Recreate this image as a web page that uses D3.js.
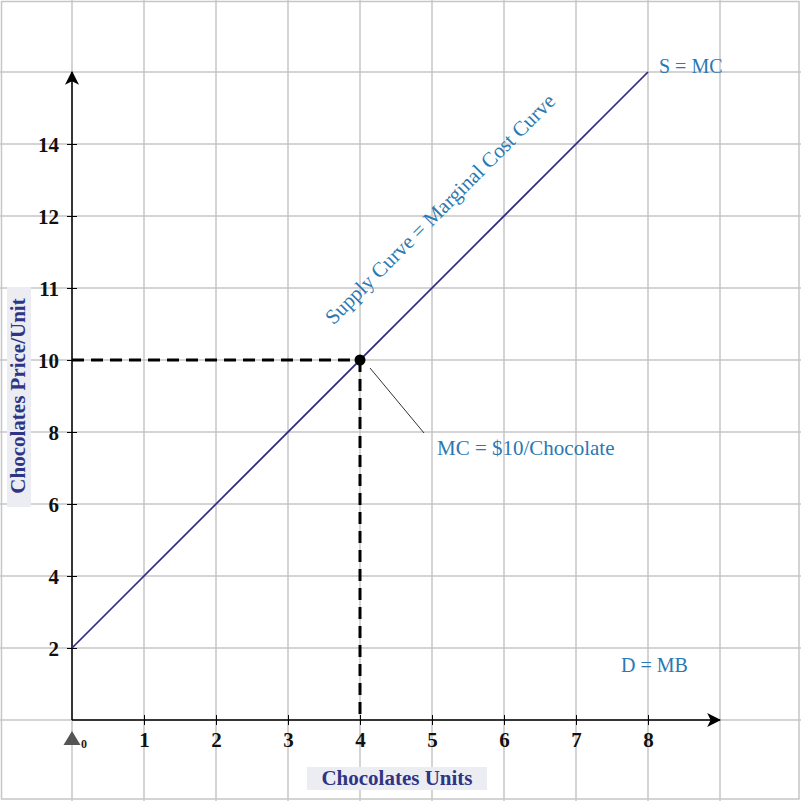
<!DOCTYPE html>
<html><head><meta charset="utf-8">
<script src="https://cdn.jsdelivr.net/npm/d3@7/dist/d3.min.js"></script>
<style>html,body{margin:0;padding:0;background:#fff}svg{display:block}</style>
</head><body>
<script>
// ---- data ----
const xTickValues = [1,2,3,4,5,6,7,8];
const xTickLabels = ["1","2","3","4","5","6","7","8"];
const yTickRows = [1,2,3,4,5,6,7,8];
const yTickLabels = ["2","4","6","8","10","11","12","14"];
const supplyQ = [0, 8];
const supplyRow = [1, 9];
const eqQ = 4, eqRow = 5;
const gridCols = [0,1,2,3,4,5,6,7,8,9];
const gridRows = [0,1,2,3,4,5,6,7,8,9];

const W = 801, H = 801;
const svg = d3.select("body").append("svg").attr("width", W).attr("height", H);
const x = d3.scaleLinear().domain([-1, 10]).range([0, 792]);
const y = d3.scaleLinear().domain([0, 10]).range([720, 0]);
const serif = "'Liberation Serif', 'DejaVu Serif', serif";
const blue = "#2b78b2";
const navy = "#2f3585";

// grid
const grid = svg.append("g").attr("stroke", "#c6c6c6").attr("stroke-width", 1.5);
grid.selectAll(".v").data(gridCols).join("line")
  .attr("x1", d => x(d)).attr("x2", d => x(d)).attr("y1", 0).attr("y2", H);
grid.selectAll(".h").data(gridRows).join("line")
  .attr("y1", d => y(d)).attr("y2", d => y(d)).attr("x1", 0).attr("x2", W);
svg.append("rect").attr("x", 1.5).attr("y", 1.5).attr("width", 797.5).attr("height", 797.5)
  .attr("fill", "none").attr("stroke", "#c6c6c6").attr("stroke-width", 1.5);

// arrow markers
const defs = svg.append("defs");
defs.append("marker").attr("id", "arr").attr("viewBox", "0 0 12 12")
  .attr("refX", 11).attr("refY", 6).attr("markerWidth", 14).attr("markerHeight", 14)
  .attr("markerUnits", "userSpaceOnUse").attr("orient", "auto")
  .append("path").attr("d", "M0,0 L12,6 L0,12 L3,6 Z").attr("fill", "#000");

// axes
const xAxis = d3.axisBottom(x).tickValues(xTickValues).tickFormat((d,i) => xTickLabels[i]).tickSize(5).tickSizeOuter(0);
const gx = svg.append("g").attr("transform", `translate(0,${y(0)})`).call(xAxis);
gx.select(".domain").remove();
gx.selectAll(".tick line").attr("y1", -5).attr("y2", 5).attr("stroke", "#000");
gx.selectAll(".tick text").attr("dy", 0).attr("y", 27)
  .attr("font-family", serif).attr("font-weight", "bold").attr("font-size", 21).attr("fill", "#111");

const yAxis = d3.axisLeft(y).tickValues(yTickRows).tickFormat((d,i) => yTickLabels[i]).tickSize(5).tickSizeOuter(0);
const gy = svg.append("g").attr("transform", `translate(${x(0)},0)`).call(yAxis);
gy.select(".domain").remove();
gy.selectAll(".tick line").attr("x1", -5).attr("x2", 5).attr("stroke", "#000");
gy.selectAll(".tick text").attr("x", -13).attr("dy", "0.34em")
  .attr("font-family", serif).attr("font-weight", "bold").attr("font-size", 21).attr("fill", "#111");

// axis lines with arrows
svg.append("line").attr("x1", x(0)).attr("y1", y(0)).attr("x2", x(9)).attr("y2", y(0))
  .attr("stroke", "#000").attr("stroke-width", 1.5).attr("marker-end", "url(#arr)");
svg.append("line").attr("x1", x(0)).attr("y1", y(0)).attr("x2", x(0)).attr("y2", y(9))
  .attr("stroke", "#000").attr("stroke-width", 1.5).attr("marker-end", "url(#arr)");

// origin marker
svg.append("path").attr("d", `M${x(0)},${y(0)+11} L${x(0)+8.5},${y(0)+25} L${x(0)-8.5},${y(0)+25} Z`).attr("fill", "#555");
svg.append("text").attr("x", x(0)+9).attr("y", y(0)+28).text("0")
  .attr("font-family", serif).attr("font-weight", "bold").attr("font-size", 12).attr("fill", "#222");

// dashed guides
svg.append("line").attr("x1", x(0)).attr("y1", y(eqRow)).attr("x2", x(eqQ)).attr("y2", y(eqRow))
  .attr("stroke", "#000").attr("stroke-width", 3).attr("stroke-dasharray", "12,7");
svg.append("line").attr("x1", x(eqQ)).attr("y1", y(eqRow)).attr("x2", x(eqQ)).attr("y2", y(0))
  .attr("stroke", "#000").attr("stroke-width", 3).attr("stroke-dasharray", "12,7");

// supply line
const line = d3.line().x(d => x(d[0])).y(d => y(d[1]));
svg.append("path").datum(supplyQ.map((q,i) => [q, supplyRow[i]])).attr("d", line)
  .attr("fill", "none").attr("stroke", "#2e2a82").attr("stroke-width", 1.7);

// equilibrium point
svg.append("circle").attr("cx", x(eqQ)).attr("cy", y(eqRow)).attr("r", 5.5).attr("fill", "#000");

// leader line
svg.append("line").attr("x1", x(eqQ)+10).attr("y1", y(eqRow)+8).attr("x2", x(eqQ)+64).attr("y2", y(eqRow)+73)
  .attr("stroke", "#333").attr("stroke-width", 1);

// labels
svg.append("text").attr("x", 437).attr("y", 455).text("MC = $10/Chocolate")
  .attr("font-family", serif).attr("font-size", 21).attr("fill", blue);
svg.append("text").attr("x", 659).attr("y", 73).text("S = MC")
  .attr("font-family", serif).attr("font-size", 20).attr("fill", blue);
svg.append("text").attr("x", 621).attr("y", 672).text("D = MB")
  .attr("font-family", serif).attr("font-size", 20).attr("fill", blue);
svg.append("text").attr("transform", "translate(445,214) rotate(-45)").attr("text-anchor", "middle")
  .text("Supply Curve = Marginal Cost Curve")
  .attr("font-family", serif).attr("font-size", 21).attr("fill", blue);

// axis titles
svg.append("rect").attr("x", 307).attr("y", 767).attr("width", 180).attr("height", 23).attr("fill", "#ececf3");
svg.append("text").attr("x", 397).attr("y", 785).attr("text-anchor", "middle").text("Chocolates Units")
  .attr("font-family", serif).attr("font-weight", "bold").attr("font-size", 21).attr("fill", navy);
svg.append("rect").attr("x", 7).attr("y", 287).attr("width", 24).attr("height", 220).attr("fill", "#ececf3");
svg.append("text").attr("transform", "translate(25,396) rotate(-90)").attr("text-anchor", "middle").text("Chocolates Price/Unit")
  .attr("font-family", serif).attr("font-weight", "bold").attr("font-size", 21).attr("fill", navy);
</script>
</body></html>
